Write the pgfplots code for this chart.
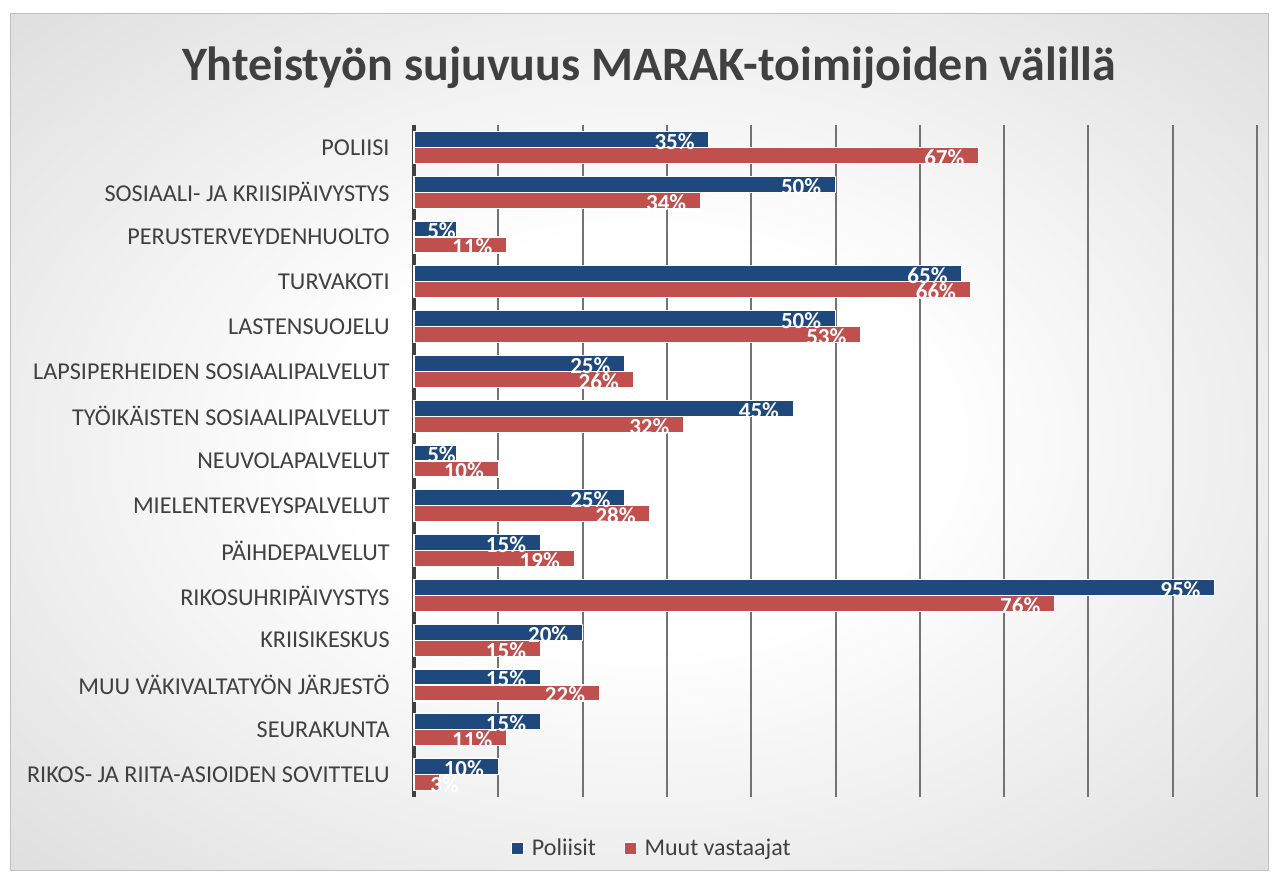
\documentclass[border=0pt]{standalone}
\usepackage{pgfplots}
\pgfplotsset{compat=1.18}
\usepackage{pgfplotstable}
\usepackage{fontspec}
\setmainfont{Carlito}
\definecolor{cblue}{HTML}{1F497D}
\definecolor{cred}{HTML}{C0504D}
\definecolor{ctext}{HTML}{404040}
\definecolor{cedge}{HTML}{CBCBCB}
\definecolor{cframe}{HTML}{BFBFBF}
\pgfdeclareradialshading{bgshade}{\pgfpoint{0bp}{0bp}}{color(0bp)=(white); color(12bp)=(white); color(50bp)=(cedge)}

\pgfplotstableread{
y pol muu
14 35 67
13 50 34
12 5 11
11 65 66
10 50 53
9 25 26
8 45 32
7 5 10
6 25 28
5 15 19
4 95 76
3 20 15
2 15 22
1 15 11
0 10 3
}\data

\pgfplotsset{
  lbl/.style={xbar, draw=none, fill=none, forget plot, bar width=8pt,
    nodes near coords={\pgfmathprintnumber{\pgfplotspointmeta}\%},
    every node near coord/.append style={anchor=east, font=\bfseries\fontsize{11.5}{13}\selectfont, text=white, inner sep=0pt}},
}

\begin{document}
\begin{tikzpicture}
\path (0pt,0pt) rectangle (637.5pt,439.5pt);
\shade[shading=bgshade, draw=cframe, line width=0.5pt] (5pt,4.5pt) rectangle (634pt,432.5pt);
\node[font=\bfseries\fontsize{24}{29}\selectfont, text=ctext] at (324.5pt,405.5pt) {Yhteistyön sujuvuus MARAK-toimijoiden välillä};
\begin{axis}[
  at={(207pt,41pt)}, anchor=south west,
  width=421.5pt, height=336pt, scale only axis,
  xmin=0, xmax=100, ymin=-0.5, ymax=14.5,
  axis lines*=left,
  x axis line style={draw=none},
  y axis line style={draw=ctext, line width=2pt},
  xtick={10,20,...,100}, xticklabels={},
  xmajorgrids, major grid style={color=black!55, line width=1pt},
  major tick length=0pt,
  ytick={0,...,14},
  yticklabels={RIKOS- JA RIITA-ASIOIDEN SOVITTELU, SEURAKUNTA, MUU VÄKIVALTATYÖN JÄRJESTÖ, KRIISIKESKUS, RIKOSUHRIPÄIVYSTYS, PÄIHDEPALVELUT, MIELENTERVEYSPALVELUT, NEUVOLAPALVELUT, TYÖIKÄISTEN SOSIAALIPALVELUT, LAPSIPERHEIDEN SOSIAALIPALVELUT, LASTENSUOJELU, TURVAKOTI, PERUSTERVEYDENHUOLTO, SOSIAALI- JA KRIISIPÄIVYSTYS, POLIISI},
  yticklabel style={font=\fontsize{12.1}{14}\selectfont, text=ctext, inner sep=0pt, xshift=-12pt},
  /pgf/number format/assume math mode=true,
  legend style={at={(0.2835,-0.077)}, anchor=center, draw=none, fill=none, legend columns=2,
    font=\fontsize{12}{14}\selectfont, text=ctext,
    /tikz/every odd column/.append style={column sep=2pt},
    /tikz/every even column/.append style={column sep=12pt}},
  clip=false,
]
\addplot[xbar, bar width=8pt, bar shift=4pt, fill=cblue, draw=white, line width=0.6pt,
  legend image code/.code={\draw[fill=cblue, draw=white, line width=0.3pt] (0pt,-3pt) rectangle (6pt,3pt);}]
  table[x=pol, y=y] {\data};
\addlegendentry{Poliisit}
\addplot[xbar, bar width=8pt, bar shift=-4pt, fill=cred, draw=white, line width=0.6pt,
  legend image code/.code={\draw[fill=cred, draw=white, line width=0.3pt] (0pt,-3pt) rectangle (6pt,3pt);}]
  table[x=muu, y=y] {\data};
\addlegendentry{Muut vastaajat}
% labels
\addplot[lbl, bar shift=4pt, x filter/.expression={x<8 ? nan : x}, every node near coord/.append style={xshift=-7pt, yshift=3pt}] table[x=pol, y=y] {\data};
\addplot[lbl, bar shift=4pt, x filter/.expression={x<8 ? x : nan}, every node near coord/.append style={xshift=0pt, yshift=3pt}] table[x=pol, y=y] {\data};
\addplot[lbl, bar shift=-4pt, x filter/.expression={x<8 ? nan : x}, every node near coord/.append style={xshift=-7pt, yshift=-5pt}] table[x=muu, y=y] {\data};
\addplot[lbl, bar shift=-4pt, x filter/.expression={x<8 ? x : nan}, every node near coord/.append style={xshift=10pt, yshift=-5pt}] table[x=muu, y=y] {\data};
\end{axis}
\end{tikzpicture}
\end{document}
